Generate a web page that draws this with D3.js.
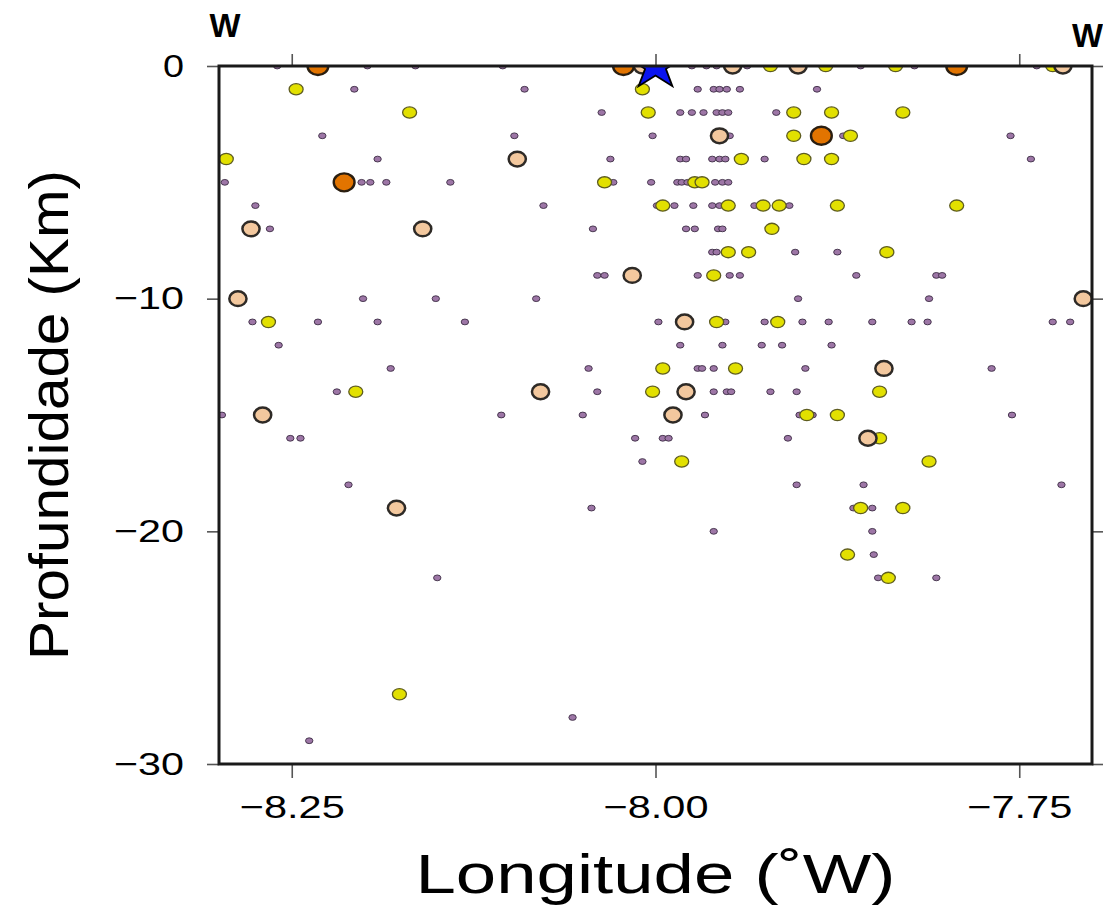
<!DOCTYPE html>
<html>
<head>
<meta charset="utf-8">
<script src="https://cdn.jsdelivr.net/npm/d3@7"></script>
<style>
  html, body { margin: 0; padding: 0; background: #fff; }
  svg { display: block; font-family: "Liberation Sans", Arial, Helvetica, sans-serif; }
</style>
</head>
<body>
<div id="chart"></div>
<script>
// Hypocentres: [longitude, depth km], grouped by magnitude class
const smallQuakes = [
  [-8.260, 0], [-8.198, 0], [-8.165, 0], [-8.105, 0], [-7.975, 0], [-7.965, 0], [-7.958, 0], [-7.937, 0], [-7.859, 0], [-7.822, 0], [-7.738, 0],
  [-8.207, -1], [-8.090, -1], [-7.971, -1], [-7.960, -1], [-7.956, -1], [-7.951, -1], [-7.942, -1], [-7.889, -1],
  [-8.037, -2], [-7.983, -2], [-7.975, -2], [-7.967, -2], [-7.958, -2], [-7.954, -2], [-7.950, -2], [-7.917, -2],
  [-8.229, -3], [-8.097, -3], [-8.002, -3], [-7.949, -3], [-7.871, -3], [-7.756, -3],
  [-8.191, -4], [-8.031, -4], [-7.983, -4], [-7.979, -4], [-7.961, -4], [-7.956, -4], [-7.952, -4], [-7.925, -4], [-7.742, -4],
  [-8.296, -5], [-8.202, -5], [-8.196, -5], [-8.185, -5], [-8.141, -5], [-8.029, -5], [-8.003, -5], [-7.985, -5], [-7.982, -5], [-7.978, -5], [-7.959, -5], [-7.954, -5], [-7.950, -5],
  [-8.275, -6], [-8.077, -6], [-7.999, -6], [-7.987, -6], [-7.974, -6], [-7.961, -6], [-7.956, -6], [-7.932, -6], [-7.908, -6],
  [-8.265, -7], [-8.043, -7], [-7.979, -7], [-7.973, -7], [-7.957, -7], [-7.954, -7],
  [-7.961, -8], [-7.958, -8], [-7.904, -8], [-7.875, -8],
  [-8.040, -9], [-8.035, -9], [-7.971, -9], [-7.949, -9], [-7.942, -9], [-7.862, -9], [-7.807, -9], [-7.803, -9],
  [-8.201, -10], [-8.151, -10], [-8.082, -10], [-7.902, -10], [-7.812, -10],
  [-8.277, -11], [-8.232, -11], [-8.191, -11], [-8.131, -11], [-7.998, -11], [-7.952, -11], [-7.925, -11], [-7.899, -11], [-7.881, -11], [-7.851, -11], [-7.824, -11], [-7.813, -11], [-7.727, -11], [-7.715, -11],
  [-8.259, -12], [-7.983, -12], [-7.954, -12], [-7.927, -12], [-7.913, -12], [-7.879, -12],
  [-8.182, -13], [-8.046, -13], [-7.971, -13], [-7.968, -13], [-7.960, -13], [-7.897, -13], [-7.769, -13],
  [-8.219, -14], [-8.040, -14], [-7.960, -14], [-7.951, -14], [-7.948, -14], [-7.921, -14], [-7.903, -14],
  [-8.298, -15], [-8.106, -15], [-8.050, -15], [-7.966, -15], [-7.901, -15], [-7.892, -15], [-7.755, -15],
  [-8.251, -16], [-8.244, -16], [-8.014, -16], [-7.995, -16], [-7.991, -16], [-7.909, -16],
  [-8.009, -17],
  [-8.211, -18], [-7.903, -18], [-7.857, -18], [-7.721, -18],
  [-8.044, -19], [-7.864, -19], [-7.851, -19],
  [-7.960, -20], [-7.851, -20],
  [-7.850, -21],
  [-8.150, -22], [-7.847, -22], [-7.807, -22],
  [-8.057, -28],
  [-8.238, -29]
];

const mediumQuakes = [
  [-7.921, 0], [-7.883, 0], [-7.835, 0], [-7.727, 0],
  [-8.247, -1], [-8.009, -1],
  [-8.169, -2], [-8.005, -2], [-7.905, -2], [-7.879, -2], [-7.830, -2],
  [-7.905, -3], [-7.866, -3],
  [-8.295, -4], [-7.941, -4], [-7.898, -4], [-7.879, -4],
  [-8.035, -5], [-7.973, -5], [-7.968, -5],
  [-7.995, -6], [-7.950, -6], [-7.926, -6], [-7.915, -6], [-7.875, -6], [-7.793, -6],
  [-7.920, -7],
  [-7.950, -8], [-7.936, -8], [-7.841, -8],
  [-7.960, -9],
  [-8.266, -11], [-7.958, -11], [-7.916, -11],
  [-7.995, -13], [-7.945, -13],
  [-8.206, -14], [-8.002, -14], [-7.846, -14],
  [-7.896, -15], [-7.875, -15],
  [-7.846, -16],
  [-7.982, -17], [-7.812, -17],
  [-7.859, -19], [-7.830, -19],
  [-7.868, -21],
  [-7.840, -22],
  [-8.176, -27]
];

const largeQuakes = [
  [-8.009, 0], [-7.947, 0], [-7.902, 0], [-7.720, 0],
  [-7.956, -3],
  [-8.095, -4],
  [-8.278, -7], [-8.160, -7],
  [-8.016, -9],
  [-8.287, -10], [-7.706, -10],
  [-7.980, -11],
  [-7.843, -13],
  [-8.079, -14], [-7.979, -14],
  [-8.270, -15], [-7.988, -15],
  [-7.854, -16],
  [-8.178, -19]
];

const majorQuakes = [
  [-8.232, 0], [-8.022, 0], [-7.793, 0],
  [-7.886, -3],
  [-8.214, -5]
];

const mainShock = [[-8.00, 0]];

const xTicks = [-8.25, -8.00, -7.75];
const yTicks = [0, -10, -20, -30];

const width = 1103, height = 906;
const margin = { top: 66, right: 11, bottom: 142, left: 219 };
const innerW = width - margin.left - margin.right;
const innerH = height - margin.top - margin.bottom;

const svg = d3.select('#chart')
  .append('svg')
  .attr('width', width)
  .attr('height', height);

const x = d3.scaleLinear().domain([-8.30, -7.70]).range([0, innerW]);
const y = d3.scaleLinear().domain([-30, 0]).range([innerH, 0]);

const g = svg.append('g').attr('transform', `translate(${margin.left},${margin.top})`);

svg.append('defs').append('clipPath')
  .attr('id', 'plot-clip')
  .append('rect')
  .attr('width', innerW)
  .attr('height', innerH);

// Axes (ticks point outward on all sides)
const tickStyle = sel => {
  sel.select('.domain').remove();
  sel.selectAll('.tick line').attr('stroke', '#555').attr('stroke-width', 1.6);
};

const xBottom = g.append('g')
  .attr('transform', `translate(0,${innerH})`)
  .call(d3.axisBottom(x).tickValues(xTicks).tickSize(14).tickPadding(17).tickFormat(d3.format('.2f')))
  .call(tickStyle);
xBottom.selectAll('.tick text')
  .attr('fill', '#000')
  .attr('font-size', 32)
  .attr('textLength', 105)
  .attr('lengthAdjust', 'spacingAndGlyphs');

g.append('g')
  .call(d3.axisTop(x).tickValues(xTicks).tickSize(12).tickFormat(''))
  .call(tickStyle);

const yLeft = g.append('g')
  .call(d3.axisLeft(y).tickValues(yTicks).tickSize(12).tickPadding(23).tickFormat(d3.format('d')))
  .call(tickStyle);
yLeft.selectAll('.tick text')
  .attr('fill', '#000')
  .attr('font-size', 32)
  .attr('textLength', d => d === 0 ? 21 : 70)
  .attr('lengthAdjust', 'spacingAndGlyphs');

g.append('g')
  .attr('transform', `translate(${innerW},0)`)
  .call(d3.axisRight(y).tickValues(yTicks).tickSize(12).tickFormat(''))
  .call(tickStyle);

// Hypocentres
const plot = g.append('g').attr('clip-path', 'url(#plot-clip)');

const classes = [
  { data: smallQuakes, rx: 3.7, ry: 2.9, fill: '#9d76a6', stroke: '#3c2c44', sw: 0.9 },
  { data: mediumQuakes, rx: 7.0, ry: 5.6, fill: '#e2e000', stroke: '#5e5c20', sw: 1.3 },
  { data: largeQuakes, rx: 8.6, ry: 7.4, fill: '#f3c89e', stroke: '#2e2a26', sw: 2.5 },
  { data: majorQuakes, rx: 10.4, ry: 9.0, fill: '#e27400', stroke: '#2a1e10', sw: 2.4 }
];

classes.forEach(c => {
  plot.append('g')
    .selectAll('ellipse')
    .data(c.data)
    .join('ellipse')
    .attr('cx', d => x(d[0]))
    .attr('cy', d => y(d[1]))
    .attr('rx', c.rx)
    .attr('ry', c.ry)
    .attr('fill', c.fill)
    .attr('stroke', c.stroke)
    .attr('stroke-width', c.sw);
});

plot.selectAll('path.star')
  .data(mainShock)
  .join('path')
  .attr('class', 'star')
  .attr('transform', d => `translate(${x(d[0])},${y(d[1])}) scale(1.15,1)`)
  .attr('d', d3.symbol(d3.symbolStar, 700))
  .attr('fill', '#0a14f0')
  .attr('stroke', '#000')
  .attr('stroke-width', 1.6);

// Frame
g.append('rect')
  .attr('width', innerW)
  .attr('height', innerH)
  .attr('fill', 'none')
  .attr('stroke', '#1a1a1a')
  .attr('stroke-width', 3);

// Titles
svg.append('text')
  .attr('x', margin.left + x(-8.00))
  .attr('y', 893)
  .attr('text-anchor', 'middle')
  .attr('font-size', 56)
  .attr('textLength', 480)
  .attr('lengthAdjust', 'spacingAndGlyphs')
  .text('Longitude (˚W)');

svg.append('text')
  .attr('transform', 'translate(68,415) rotate(-90)')
  .attr('text-anchor', 'middle')
  .attr('font-size', 56)
  .attr('textLength', 490)
  .attr('lengthAdjust', 'spacingAndGlyphs')
  .text('Profundidade (Km)');

// Section end labels
svg.append('text')
  .attr('x', 225).attr('y', 37)
  .attr('text-anchor', 'middle')
  .attr('font-size', 33)
  .attr('font-weight', 'bold')
  .attr('textLength', 31)
  .attr('lengthAdjust', 'spacingAndGlyphs')
  .text('W');

svg.append('text')
  .attr('x', 1072).attr('y', 47)
  .attr('font-size', 33)
  .attr('font-weight', 'bold')
  .attr('textLength', 31)
  .attr('lengthAdjust', 'spacingAndGlyphs')
  .text('W');
</script>
</body>
</html>
